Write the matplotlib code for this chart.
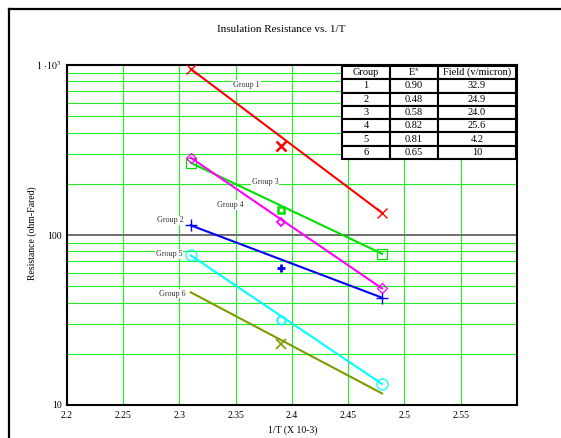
import matplotlib
matplotlib.use("Agg")
import matplotlib.pyplot as plt
from matplotlib.lines import Line2D
from matplotlib.ticker import FixedLocator, NullFormatter, LogLocator

plt.rcParams['font.family'] = ['Liberation Serif', 'DejaVu Serif']
plt.rcParams['mathtext.fontset'] = 'stix'

# ---- data ----
x_fit = [2.31, 2.48]          # fitted line ends (1/T x 1e-3)
x_mid = [2.39]                # measured middle point
g1_fit = [948, 135];  g1_mid = [332]
g2_fit = [114, 42.8]; g2_mid = [64.3]
g3_fit = [266, 77.6]; g3_mid = [141]
g4_fit = [285, 48.5]; g4_mid = [119]
g5_fit = [75.9, 13.3]; g5_mid = [31.5]
g6_fit = [46, 11.7];  g6_mid = [22.8]

x_ticks = [2.2, 2.25, 2.3, 2.35, 2.4, 2.45, 2.5, 2.55]
x_tick_labels = ["2.2", "2.25", "2.3", "2.35", "2.4", "2.45", "2.5", "2.55"]
y_ticks = [10, 100, 1000]
y_tick_labels = ["10", "100", r"$1\,\cdot\!10^{3}$"]

table_groups = ["1", "2", "3", "4", "5", "6"]
table_ex = ["0.90", "0.48", "0.58", "0.82", "0.81", "0.65"]
table_field = ["32.9", "24.9", "24.0", "25.6", "4.2", "10"]
table_header = ["Group", r"E$^{\mathrm{x}}$", "Field (v/micron)"]

W, H = 561, 438
fig = plt.figure(figsize=(W / 100, H / 100), dpi=100)
fig.patch.set_facecolor('white')

# outer frame (left and top edges visible)
fig.add_artist(Line2D([8.5 / W, 8.5 / W], [0, 1 - 8.5 / H], transform=fig.transFigure,
                      color='black', lw=1.6))
fig.add_artist(Line2D([8.5 / W, 1], [1 - 8.5 / H, 1 - 8.5 / H], transform=fig.transFigure,
                      color='black', lw=1.6))

ax = fig.add_axes([67 / W, 1 - 405 / H, 450 / W, 340 / H])
ax.set_yscale('log')
ax.set_xlim(2.2, 2.6)
ax.set_ylim(10, 1000)

grid_col = '#22ee22'
ax.set_xticks(x_ticks)
ax.set_xticklabels(x_tick_labels)
ax.set_yticks(y_ticks)
ax.set_yticklabels(y_tick_labels)
ax.yaxis.set_minor_locator(LogLocator(base=10, subs=range(2, 10)))
ax.yaxis.set_minor_formatter(NullFormatter())
ax.tick_params(which='both', length=0, labelsize=7)
ax.tick_params(axis='x', pad=4)
ax.tick_params(axis='y', pad=4)
ax.grid(True, axis='x', which='major', color=grid_col, lw=0.8)
ax.grid(True, axis='y', which='minor', color=grid_col, lw=0.8)
ax.set_axisbelow(True)
ax.axhline(100, color='#6e6e6e', lw=1.4, zorder=1)
for s in ax.spines.values():
    s.set_color('black')
    s.set_linewidth(1.5)

lw = 1.5
groups = [
    (g1_fit, g1_mid, '#ff0000', 'x', 7, 1.0, 'x', 7, 1.8),
    (g2_fit, g2_mid, '#0000ff', '+', 8, 1.0, '+', 6, 2.0),
    (g3_fit, g3_mid, '#00e000', 's', 7, 0.9, 's', 4.5, 1.8),
    (g4_fit, g4_mid, '#ff00ff', 'D', 5, 0.9, 'D', 4, 1.3),
    (g5_fit, g5_mid, '#00ffff', 'o', 8, 0.9, 'o', 6, 1.3),
]
for fit, mid, c, m_end, ms_end, mew_end, m_mid, ms_mid, mew_mid in groups:
    ax.plot(x_fit, fit, color=c, lw=lw, marker=m_end, ms=ms_end, mew=mew_end,
            mfc='none', mec=c, zorder=3)
    ax.plot(x_mid, mid, ls='none', marker=m_mid, ms=ms_mid, mew=mew_mid,
            mfc='none', mec=c, zorder=3)
ax.plot(x_fit, g6_fit, color='#809900', lw=lw, zorder=3)
ax.plot(x_mid, g6_mid, ls='none', marker='x', ms=7, mew=1.2, mec='#809900', zorder=3)

lab_kw = dict(fontsize=5.8, color='#333333', ha='center', va='center', zorder=4,
              bbox=dict(facecolor='white', edgecolor='none', pad=0.6))
ax.text(2.3597, 762, "Group 1", **lab_kw)
ax.text(2.376, 206, "Group 3", **lab_kw)
ax.text(2.345, 150, "Group 4", **lab_kw)
ax.text(2.292, 122, "Group 2", **lab_kw)
ax.text(2.291, 77, "Group 5", **lab_kw)
ax.text(2.2936, 45.2, "Group 6", **lab_kw)

cell_text = [[g, e, f] for g, e, f in zip(table_groups, table_ex, table_field)]
tb = ax.table(cellText=cell_text, colLabels=table_header, cellLoc='center',
              colWidths=[48, 48, 78],
              bbox=[(342 - 67) / 450, 1 - (159 - 65) / 340, (516 - 342) / 450, (159 - 66) / 340])
tb.auto_set_font_size(False)
tb.set_fontsize(7.5)
for cell in tb.get_celld().values():
    cell.set_edgecolor('black')
    cell.set_linewidth(1.5)
    cell.set_facecolor('white')
tb.set_zorder(6)

fig.text(281 / W, 1 - 30 / H, "Insulation Resistance vs. 1/T", ha='center', va='center', fontsize=8)
fig.text(31.7 / W, 1 - 233.5 / H, "Resistance (ohm-Fared)", rotation=90, ha='center',
         va='center', fontsize=7)
fig.text(292.5 / W, 1 - 430 / H, "1/T (X 10-3)", ha='center', va='center', fontsize=7)

fig.savefig("out.png", dpi=100)
